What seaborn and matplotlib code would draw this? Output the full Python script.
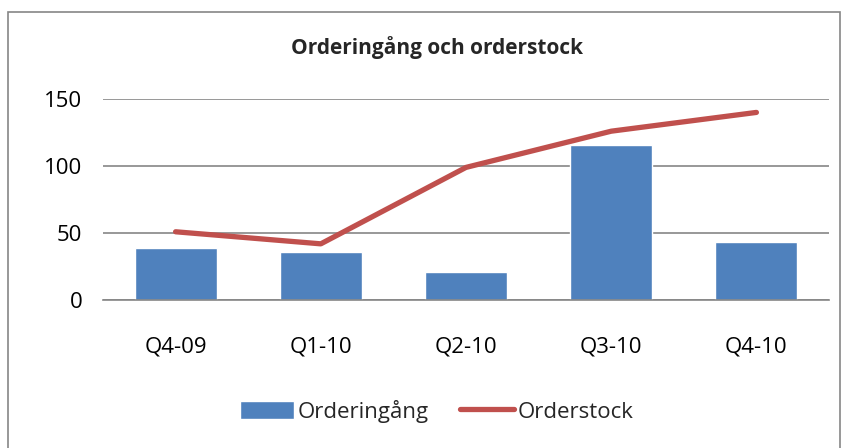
import pandas as pd
import seaborn as sns
import matplotlib.pyplot as plt
import numpy as np
from matplotlib.patches import Rectangle

quarters = ["Q4-09", "Q1-10", "Q2-10", "Q3-10", "Q4-10"]
orderingang = [39, 36, 21, 116, 43]
orderstock = [51, 42, 99, 126, 140]

df = pd.DataFrame({"Kvartal": quarters, "Orderingång": orderingang, "Orderstock": orderstock})

sns.set_theme(style="white")
plt.rcParams['font.family'] = ['Open Sans', 'DejaVu Sans']

fig = plt.figure(figsize=(8.47, 4.48), dpi=100)
ax = fig.add_axes([103 / 847, 0.330, 726 / 847, 0.449])

sns.barplot(data=df, x="Kvartal", y="Orderingång", color="#4F81BD", saturation=1,
            width=0.565, label="Orderingång", ax=ax, zorder=2)
sns.lineplot(x=np.arange(len(quarters)), y=df["Orderstock"], color="#C0504D", linewidth=3.8,
             solid_capstyle="round", label="Orderstock", ax=ax, zorder=3)

ax.set_ylim(0, 150)
ax.set_yticks([0, 50, 100, 150])
ax.set_xlim(-0.5, len(quarters) - 0.5)
ax.yaxis.grid(True, color="#868686", linewidth=1.2)
ax.set_axisbelow(True)
for s in ["left", "right", "top"]:
    ax.spines[s].set_visible(False)
ax.spines["bottom"].set_color("#868686")
ax.spines["bottom"].set_linewidth(1.2)
ax.set_xlabel("")
ax.set_ylabel("")
ax.tick_params(axis="both", labelsize=16, colors="black", length=0)
ax.tick_params(axis="x", pad=26)
ax.tick_params(axis="y", pad=15)

fig.text(0.516, 0.893, "Orderingång och orderstock", ha="center", va="center",
         fontsize=15, fontweight="bold")

handles, labels = ax.get_legend_handles_labels()
order = [labels.index("Orderingång"), labels.index("Orderstock")]
ax.legend([handles[i] for i in order], [labels[i] for i in order],
          loc="center", bbox_to_anchor=(0.516, 0.082), bbox_transform=fig.transFigure,
          ncol=2, frameon=False, fontsize=16, handlelength=2.4, handleheight=0.9,
          handletextpad=0.2, columnspacing=1.4)

fig.patches.append(Rectangle((8 / 847, -0.05), 832 / 847, 1 - 12 / 448 + 0.05,
                             transform=fig.transFigure, fill=False,
                             edgecolor="#868686", linewidth=1.2))

fig.savefig("out.png", dpi=100)
